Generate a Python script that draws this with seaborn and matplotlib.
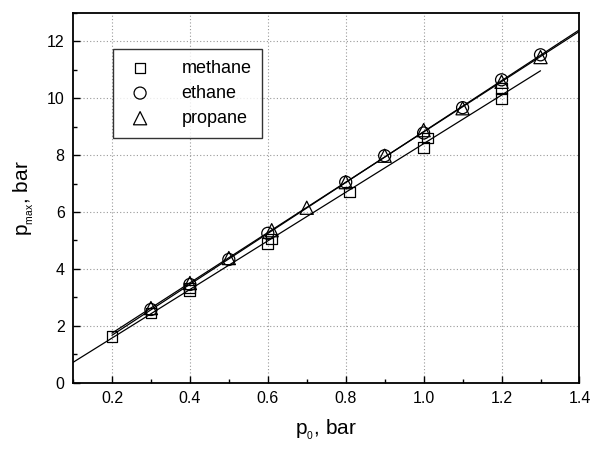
import numpy as np
import pandas as pd
import matplotlib
matplotlib.use("Agg")
import matplotlib.pyplot as plt
import seaborn as sns
from matplotlib.ticker import MultipleLocator

# data
methane_p0 = [0.2, 0.3, 0.4, 0.4, 0.6, 0.61, 0.81, 1.0, 1.01, 1.2, 1.2]
methane_pmax = [1.62, 2.45, 3.25, 3.33, 4.88, 5.05, 6.70, 8.27, 8.60, 9.98, 10.35]

ethane_p0 = [0.3, 0.4, 0.5, 0.6, 0.8, 0.9, 1.0, 1.1, 1.2, 1.3]
ethane_pmax = [2.57, 3.45, 4.33, 5.25, 7.05, 7.98, 8.78, 9.67, 10.65, 11.53]

propane_p0 = [0.3, 0.4, 0.5, 0.61, 0.7, 0.8, 0.9, 1.0, 1.1, 1.2, 1.3]
propane_pmax = [2.62, 3.50, 4.38, 5.36, 6.15, 7.05, 7.98, 8.88, 9.65, 10.58, 11.45]

# ranges over which the fit lines are drawn
methane_fit_range = [0.1, 1.3]
ethane_fit_range = [0.2, 1.4]
propane_fit_range = [0.2, 1.4]

sns.set_style("white")
plt.rcParams["font.family"] = ["Liberation Sans", "DejaVu Sans"]
plt.rcParams["text.color"] = "black"
plt.rcParams["axes.labelcolor"] = "black"
plt.rcParams["xtick.color"] = "black"
plt.rcParams["ytick.color"] = "black"
plt.rcParams["mathtext.fontset"] = "custom"
plt.rcParams["mathtext.rm"] = "Liberation Sans"

fig = plt.figure(figsize=(5.91, 4.49), dpi=100)
ax = fig.add_axes([0.1235, 0.148, 0.857, 0.823])

series = [
    ("methane", methane_p0, methane_pmax, methane_fit_range, "s", 60),
    ("ethane", ethane_p0, ethane_pmax, ethane_fit_range, "o", 75),
    ("propane", propane_p0, propane_pmax, propane_fit_range, "^", 90),
]

for name, xs, ys, rng, mk, sz in series:
    k, b = np.polyfit(xs, ys, 1)
    xl = np.array(rng)
    sns.lineplot(x=xl, y=k * xl + b, ax=ax, color="black", lw=0.9, zorder=3)
    sns.scatterplot(x=xs, y=ys, ax=ax, marker=mk, s=sz, facecolor="none",
                    edgecolor="black", linewidth=0.9, label=name, zorder=4)

ax.set_xlim(0.1, 1.4)
ax.set_ylim(0, 13)
ax.xaxis.set_minor_locator(MultipleLocator(0.1))
ax.yaxis.set_major_locator(MultipleLocator(2))
ax.yaxis.set_minor_locator(MultipleLocator(1))
ax.set_xticks([0.2, 0.4, 0.6, 0.8, 1.0, 1.2, 1.4])
ax.set_xticklabels(["0.2", "0.4", "0.6", "0.8", "1.0", "1.2", "1.4"])
ax.tick_params(which="both", direction="in", bottom=True, left=True,
               top=False, right=False, labelsize=11.5, color="black")
ax.tick_params(which="major", length=5, width=1, pad=6)
ax.tick_params(which="minor", length=3, width=1)
ax.grid(True, which="major", linestyle=(0, (1, 2)), color="#999999", lw=0.8)
for sp in ax.spines.values():
    sp.set_color("black")
    sp.set_linewidth(1.3)

ax.set_xlabel(r"p$_{\mathregular{_0}}$, bar", fontsize=15, labelpad=8)
ax.set_ylabel(r"p$_{\mathregular{_{max}}}$, bar", fontsize=15, labelpad=8)

leg = ax.legend(loc="upper left", bbox_to_anchor=(0.079, 0.903), fontsize=13,
                frameon=True, fancybox=False, edgecolor="black",
                handletextpad=1.4, borderpad=0.6, labelspacing=0.45,
                handlelength=1.8, borderaxespad=0)
leg.get_frame().set_linewidth(1.0)

fig.savefig("out.png", dpi=100)
